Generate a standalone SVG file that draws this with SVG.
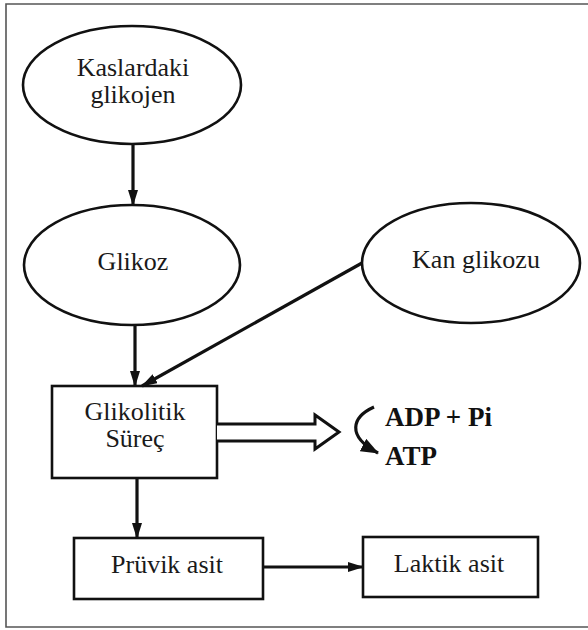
<svg xmlns="http://www.w3.org/2000/svg" width="588" height="630" viewBox="0 0 588 630">
<style>
.shape{fill:none;stroke:#111;stroke-width:2.6}
.lbl{font-family:"Liberation Serif","DejaVu Serif",serif;font-size:26px;fill:#1a1a1a;text-anchor:middle}
.bold{font-family:"Liberation Serif","DejaVu Serif",serif;font-size:27px;font-weight:bold;fill:#111}
.conn{fill:none;stroke:#111;stroke-width:3.2}
.frame{fill:none;stroke:#555;stroke-width:1.6}
</style>
<defs>
<marker id="ah" viewBox="0 0 16 10" refX="15" refY="5" markerWidth="16" markerHeight="10" markerUnits="userSpaceOnUse" orient="auto">
<path d="M0,0 L16,5 L0,10 Z" fill="#111"/>
</marker>
<marker id="ah2" viewBox="0 0 18 14" refX="17" refY="7" markerWidth="18" markerHeight="14" markerUnits="userSpaceOnUse" orient="auto">
<path d="M0,0 L18,7 L0,14 Z" fill="#111"/>
</marker>
</defs>
<rect width="588" height="630" fill="#fff"/>
<path class="frame" d="M588,4 L6,4 L6,627 L588,627"/>
<g id="kaslardaki">
<ellipse class="shape" cx="132" cy="85" rx="109" ry="59"/>
<text class="lbl" x="133" y="76">Kaslardaki</text>
<text class="lbl" x="133" y="103">glikojen</text>
</g>
<g id="glikoz">
<ellipse class="shape" cx="132" cy="265" rx="108" ry="60"/>
<text class="lbl" x="133" y="270">Glikoz</text>
</g>
<g id="kan-glikozu">
<ellipse class="shape" cx="471" cy="263" rx="109" ry="60"/>
<text class="lbl" x="476" y="268">Kan glikozu</text>
</g>
<g id="glikolitik">
<rect class="shape" x="52" y="386" width="165" height="92"/>
<text class="lbl" x="135" y="420">Glikolitik</text>
<text class="lbl" x="135" y="447">Süreç</text>
</g>
<g id="pruvik">
<rect class="shape" x="74" y="538" width="189" height="61"/>
<text class="lbl" x="167" y="573">Prüvik asit</text>
</g>
<g id="laktik">
<rect class="shape" x="363" y="537" width="175" height="60"/>
<text class="lbl" x="449" y="572">Laktik asit</text>
</g>
<g id="atp">
<text class="bold" x="385" y="426">ADP + Pi</text>
<text class="bold" x="385" y="465">ATP</text>
</g>
<g id="connectors">
<line class="conn" x1="133" y1="144" x2="133" y2="205" marker-end="url(#ah)"/>
<line class="conn" x1="135" y1="325" x2="135" y2="386" marker-end="url(#ah)"/>
<line class="conn" x1="362" y1="263" x2="142" y2="386" marker-end="url(#ah)"/>
<line class="conn" x1="137" y1="478" x2="137" y2="538" marker-end="url(#ah)"/>
<line class="conn" x1="263" y1="567" x2="363" y2="567" marker-end="url(#ah)"/>
<path d="M217,424 L315,424 L315,415 L339,432 L315,449 L315,441 L217,441" fill="#fff" stroke="#111" stroke-width="3" stroke-linejoin="miter"/>
<path class="conn" d="M374,407 C352,417 346,436 378,453" marker-end="url(#ah2)"/>
</g>
</svg>
